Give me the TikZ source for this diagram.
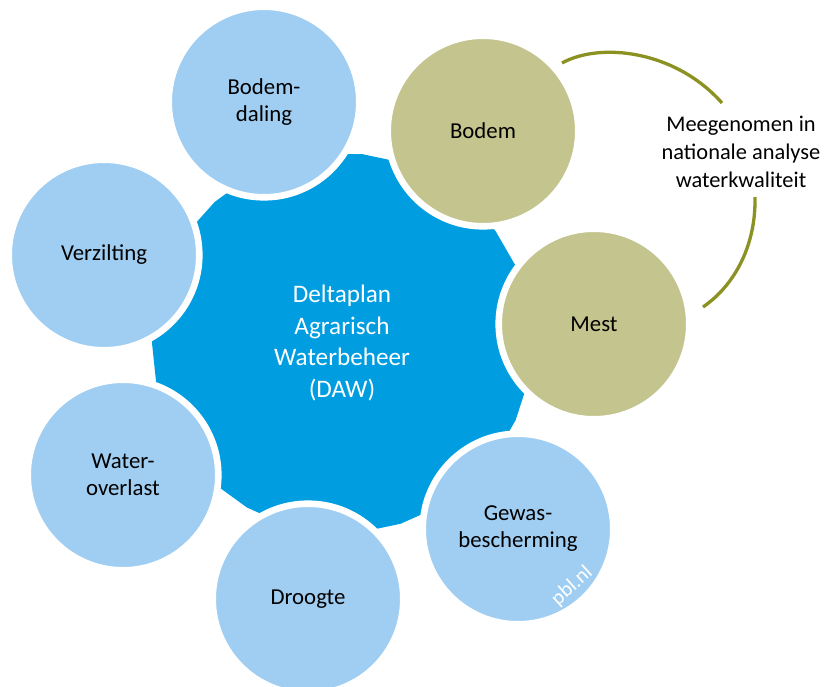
\documentclass[tikz,border=0pt]{standalone}
\usepackage{fontspec}
\setmainfont{Carlito}
\usepackage{tikz}
\usetikzlibrary{shapes.geometric}
\definecolor{dawblauw}{RGB}{0,158,224}
\definecolor{lichtblauw}{RGB}{160,206,242}
\definecolor{bodemgroen}{RGB}{196,197,142}
\definecolor{lijngroen}{RGB}{139,146,33}
\tikzset{thema/.style={circle,draw=white,line width=3.3pt,minimum size=95.3pt,inner sep=0pt,align=center,font=\fontsize{11.4}{13.5}\selectfont},
  licht/.style={thema,fill=lichtblauw}, groen/.style={thema,fill=bodemgroen},
  boog/.style={lijngroen,line width=1.65pt}}

\begin{document}
\begin{tikzpicture}[x=0.5pt,y=-0.5pt]
\useasboundingbox (0,0) rectangle (825,686);
% 中间的多边形 (DAW)
\node[regular polygon,regular polygon sides=30,minimum size=190pt,inner sep=0pt,fill=dawblauw,text=white,align=center,font=\fontsize{12.6}{15.8}\selectfont] (daw) at (342,343) {Deltaplan\\Agrarisch\\Waterbeheer\\(DAW)};
% 周围的圆, 白边盖住多边形
\node[licht] (bodemdaling) at (264,102) {Bodem-\\daling};
\node[licht] (verzilting) at (104,255) {Verzilting};
\node[groen] (bodem) at (483,131) {Bodem};
\node[groen] (mest) at (594,324) {Mest};
\node[licht] (overlast) at (123,475) {Water-\\overlast};
\node[licht] (gewas) at (518,529) {Gewas-\\bescherming};
\node[licht] (droogte) at (308,599) {Droogte};
% 水印
\node[rotate=42,inner sep=0pt,text=white,font=\fontsize{10.4}{12}\selectfont] (pbl) at (572,586) {pbl.nl};
% 右边的弧线和说明
\node[align=center,font=\fontsize{11.2}{14}\selectfont] (noot) at (741,152) {Meegenomen in\\nationale analyse\\waterkwaliteit};
\draw[boog] (562,63) .. controls (600,42) and (675,50) .. (722,103);
\draw[boog] (755,197) .. controls (756,245) and (735,285) .. (703,307);
\end{tikzpicture}
\end{document}
